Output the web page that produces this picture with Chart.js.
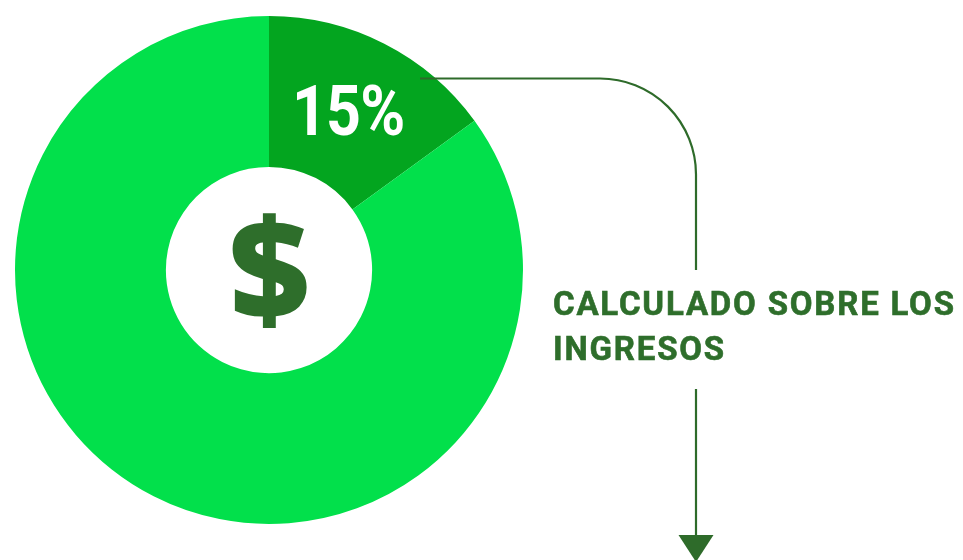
<!DOCTYPE html>
<html>
<head>
<meta charset="utf-8">
<script src="https://cdn.jsdelivr.net/npm/chart.js@4.4.1/dist/chart.umd.min.js"></script>
<style>
  html, body { margin: 0; padding: 0; background: #ffffff; }
  #wrap { position: relative; width: 963px; height: 560px; overflow: hidden; }
  canvas { position: absolute; left: 0; top: 0; }
  #caption {
    position: absolute; left: 553px; top: 281px;
    font-family: Roboto, "Liberation Sans", sans-serif; font-weight: 700;
    font-size: 33px; line-height: 45px; color: #2E6E2B; letter-spacing: 1.8px;
    white-space: nowrap; -webkit-text-stroke: 0.6px #2E6E2B;
  }
</style>
</head>
<body>
<div id="wrap">
  <canvas id="c" width="963" height="560"></canvas>
  <div id="caption">CALCULADO SOBRE LOS<br>INGRESOS</div>
</div>
<script>
const categories = ["Calculado sobre los ingresos", "Resto"];
const values = [15, 85];
const colors = ["#03A51F", "#02E04B"];
const centerSymbol = "$";

const overlay = {
  id: "overlay",
  afterDatasetsDraw(chart) {
    const ctx = chart.ctx;
    const arc = chart.getDatasetMeta(0).data[0];
    const cx = arc.x, cy = arc.y, R = arc.outerRadius;
    const total = values.reduce((a, b) => a + b, 0);
    const pct = Math.round(values[0] / total * 100) + "%";
    ctx.save();
    // percentage label
    ctx.fillStyle = "#ffffff";
    ctx.font = "700 70px Roboto, 'Liberation Sans', sans-serif";
    ctx.textBaseline = "alphabetic";
    ctx.textAlign = "left";
    ctx.save();
    ctx.translate(cx + 23, cy - 135);
    ctx.scale(0.87, 1);
    ctx.letterSpacing = "-1px";
    ctx.fillText(pct, 0, 0);
    ctx.restore();
    // centre symbol
    ctx.fillStyle = "#2E6E2B";
    ctx.font = "800 140px 'Open Sans', 'DejaVu Sans', sans-serif";
    ctx.textAlign = "center";
    ctx.textBaseline = "middle";
    ctx.fillText(centerSymbol, cx + 0.5, cy + 10);
    // connector
    ctx.strokeStyle = "#2E6B2A";
    ctx.lineWidth = 2.2;
    const sx = cx + 151, sy = cy - 191.5;
    const vx = 696, r = 96;
    ctx.beginPath();
    ctx.moveTo(sx, sy);
    ctx.lineTo(vx - r, sy);
    ctx.arcTo(vx, sy, vx, sy + r, r);
    ctx.lineTo(vx, 270);
    ctx.stroke();
    ctx.beginPath();
    ctx.moveTo(vx, 389);
    ctx.lineTo(vx, 538);
    ctx.stroke();
    ctx.fillStyle = "#2E6B2A";
    ctx.beginPath();
    ctx.moveTo(vx - 17.5, 535);
    ctx.lineTo(vx + 17.5, 535);
    ctx.lineTo(vx, 562);
    ctx.closePath();
    ctx.fill();
    ctx.restore();
  }
};

new Chart(document.getElementById("c"), {
  type: "doughnut",
  data: {
    labels: categories,
    datasets: [{
      data: values,
      backgroundColor: colors,
      borderWidth: 0,
      hoverOffset: 0
    }]
  },
  options: {
    responsive: false,
    animation: false,
    cutout: "40.6%",
    layout: { padding: { left: 15, top: 16, right: 440, bottom: 36 } },
    plugins: { legend: { display: false }, tooltip: { enabled: false } }
  },
  plugins: [overlay]
});
</script>
</body>
</html>
